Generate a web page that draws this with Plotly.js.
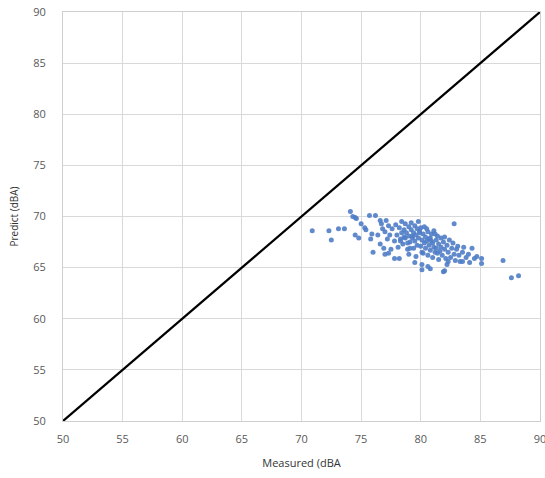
<!DOCTYPE html>
<html>
<head>
<meta charset="utf-8">
<script src="https://cdn.plot.ly/plotly-3.0.1.min.js"></script>
<style>html,body{margin:0;padding:0;background:#fff;}#chart{width:545px;height:478px;}</style>
</head>
<body>
<div id="chart"></div>
<script>
const xTicks = [50, 55, 60, 65, 70, 75, 80, 85, 90];
const yTicks = [50, 55, 60, 65, 70, 75, 80, 85, 90];
const lineX = [50, 90];
const lineY = [50, 90];
const measured = [
  70.9, 72.3, 72.5, 73.1, 73.6, 74.1, 74.3, 74.5, 74.6, 75.0,
  75.7, 76.2, 76.6, 74.5, 74.8, 75.4, 75.8, 76.0, 77.3, 78.2,
  77.0, 77.8, 75.3, 75.9, 76.4, 76.6, 76.8, 76.9, 77.0, 77.2,
  77.3, 77.4, 77.5, 76.7, 77.1, 77.6, 77.8, 77.9, 78.0, 78.1,
  78.2, 78.3, 78.4, 78.4, 78.5, 78.6, 78.7, 78.7, 78.8, 78.9,
  79.0, 79.0, 79.1, 79.2, 79.2, 79.3, 79.4, 79.4, 79.5, 79.5,
  79.6, 79.7, 79.7, 79.8, 79.8, 79.9, 80.0, 80.0, 80.1, 80.1,
  80.2, 80.3, 80.3, 80.4, 80.4, 80.5, 80.6, 80.6, 80.7, 80.8,
  80.8, 80.9, 81.0, 81.0, 81.1, 81.1, 81.2, 81.3, 81.3, 81.4,
  81.5, 81.5, 81.6, 81.7, 81.7, 81.8, 81.9, 82.0, 82.0, 82.1,
  82.2, 82.3, 82.4, 82.5, 82.6, 82.7, 82.8, 82.8, 82.9, 83.0,
  83.1, 83.2, 83.3, 83.5, 84.1, 84.3, 84.7, 85.1, 85.1, 86.9,
  87.6, 88.2, 82.2, 82.0, 80.8, 80.1, 80.1, 80.6, 81.9, 82.3,
  83.5, 83.8, 84.0, 83.6, 84.5, 79.5, 79.0, 78.3, 78.9, 79.3,
  79.9, 80.5, 81.2, 79.6, 80.2, 80.9, 81.4, 78.6, 79.1, 80.7
];
const predicted = [
  68.6, 68.6, 67.7, 68.8, 68.8, 70.5, 70.0, 69.9, 69.8, 69.3,
  70.1, 70.1, 69.6, 68.2, 67.9, 68.7, 67.8, 66.5, 66.4, 65.9,
  66.3, 65.9, 68.9, 68.3, 68.2, 67.3, 68.8, 66.9, 68.5, 67.8,
  69.1, 68.2, 66.8, 69.3, 69.6, 68.8, 67.6, 69.2, 68.2, 67.0,
  68.9, 67.8, 69.5, 68.4, 67.3, 68.7, 69.3, 67.9, 68.4, 66.8,
  69.0, 68.1, 67.5, 68.7, 69.4, 67.9, 68.4, 66.9, 69.1, 67.6,
  68.2, 68.8, 67.2, 69.5, 67.9, 68.4, 67.1, 68.9, 67.7, 66.5,
  68.3, 67.4, 69.0, 66.9, 68.0, 67.6, 68.5, 66.2, 67.2, 67.9,
  66.7, 68.3, 67.4, 66.0, 67.0, 68.6, 66.5, 67.7, 66.9, 68.1,
  67.3, 65.8, 66.6, 67.9, 67.0, 66.2, 67.5, 66.8, 68.0, 65.9,
  67.2, 66.5, 67.7, 66.0, 66.9, 67.4, 69.3, 66.3, 65.7, 66.8,
  67.1, 66.2, 65.6, 65.6, 65.5, 66.9, 66.1, 65.9, 65.4, 65.7,
  64.0, 64.2, 65.3, 64.7, 64.9, 65.3, 64.8, 65.1, 64.6, 65.6,
  66.5, 66.0, 66.3, 67.0, 65.9, 65.5, 66.3, 67.6, 67.4, 68.1,
  68.6, 68.8, 68.3, 66.1, 66.4, 67.6, 66.4, 68.0, 66.9, 67.8
];

const tickFont = {family: 'Open Sans, sans-serif', size: 11, color: '#595959'};

const data = [
  {
    x: lineX, y: lineY, type: 'scatter', mode: 'lines',
    line: {color: '#000000', width: 2.2}, hoverinfo: 'skip', showlegend: false
  },
  {
    x: measured, y: predicted, type: 'scatter', mode: 'markers',
    marker: {color: '#4F7DC6', size: 5, opacity: 0.9}, showlegend: false
  }
];

const layout = {
  width: 545, height: 478,
  margin: {l: 63, r: 5, t: 12, b: 57},
  paper_bgcolor: '#ffffff', plot_bgcolor: '#ffffff',
  showlegend: false,
  xaxis: {
    range: [50, 90], tickvals: xTicks, ticktext: xTicks.map(String),
    showgrid: true, gridcolor: '#d9d9d9', gridwidth: 1,
    showline: true, mirror: true, linecolor: '#cfcfcf', linewidth: 1,
    zeroline: false, ticks: '', tickfont: tickFont, ticklabelstandoff: 8,
    ticklabeloverflow: 'allow',
    title: {text: 'Measured (dBA', font: {family: 'Open Sans, sans-serif', size: 11, color: '#333333'}, standoff: 14}
  },
  yaxis: {
    range: [50, 90], tickvals: yTicks, ticktext: yTicks.map(String),
    showgrid: true, gridcolor: '#d9d9d9', gridwidth: 1,
    showline: true, mirror: true, linecolor: '#cfcfcf', linewidth: 1,
    zeroline: false, ticks: '', tickfont: tickFont, ticklabelstandoff: 14,
    ticklabeloverflow: 'allow',
    title: {text: 'Predict (dBA)', font: {family: 'Open Sans, sans-serif', size: 10, color: '#333333'}, standoff: 12}
  }
};

Plotly.newPlot('chart', data, layout, {displayModeBar: false, staticPlot: true});
</script>
</body>
</html>
